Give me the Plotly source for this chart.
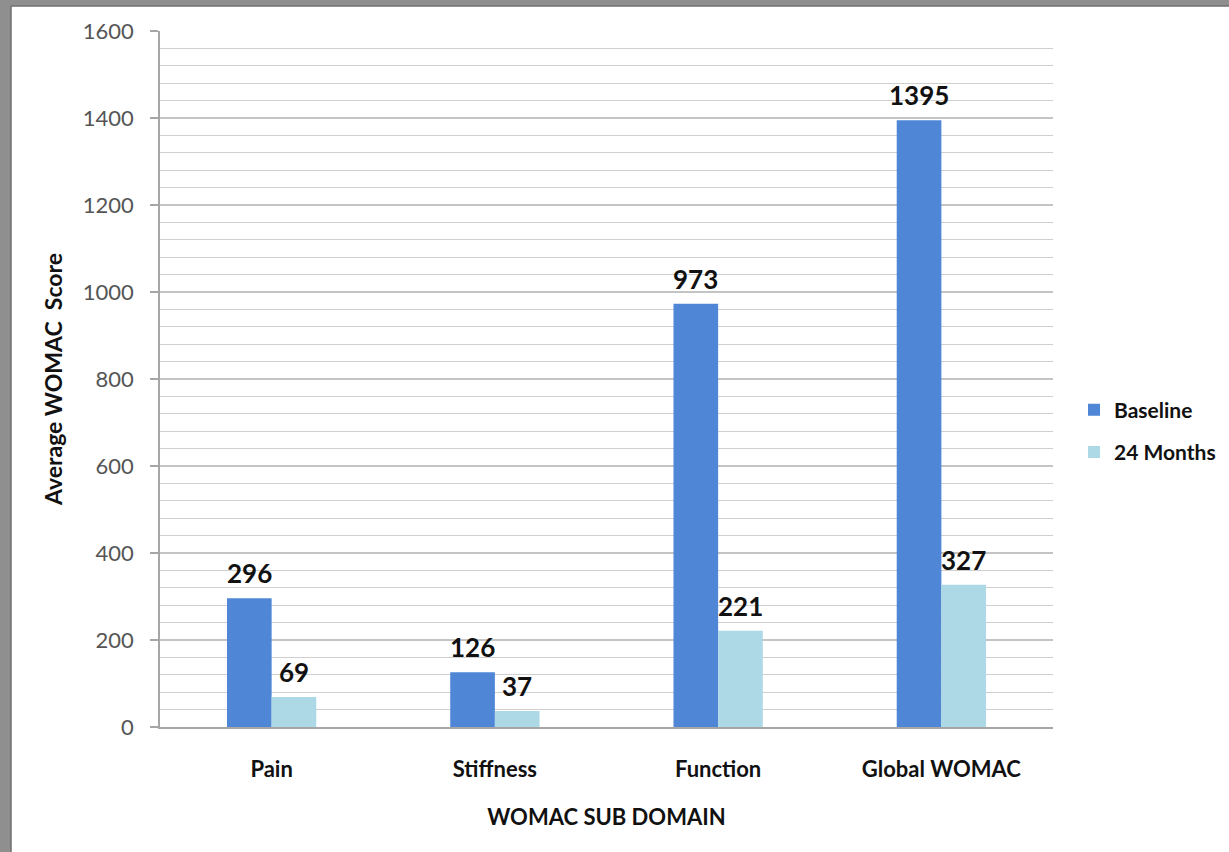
import plotly.graph_objects as go

# WOMAC scores at baseline and after 24 months
categories = ["Pain", "Stiffness", "Function", "Global WOMAC"]
baseline = [296, 126, 973, 1395]
months_24 = [69, 37, 221, 327]

W, H = 1229, 852
L, R, T, B = 160, 176, 31, 125
FONT = "Lato"

fig = go.Figure()
fig.add_trace(go.Bar(name="<b>Baseline</b>", x=categories, y=baseline,
                     marker=dict(color="#4F87D6", line=dict(width=0)),
                     legendgroup="a"))
fig.add_trace(go.Bar(name="<b>24 Months</b>", x=categories, y=months_24,
                     marker=dict(color="#ADD8E6", line=dict(width=0)),
                     legendgroup="b"))

# value labels above each bar
bar_px = (W - L - R) / len(categories) * 0.2
for series, shift in ((baseline, -bar_px / 2), (months_24, bar_px / 2)):
    for cat, val in zip(categories, series):
        fig.add_annotation(x=cat, y=val, text=f"<b>{val}</b>", showarrow=False,
                           xref="x", yref="y", xshift=shift, yshift=7,
                           yanchor="bottom",
                           font=dict(family=FONT, size=26, color="#111111"))

# grey frame around the white panel
pw, ph = W - L - R, H - T - B
def px_x(p):
    return (p - L) / pw
def px_y(p):
    return 1 - (p - T) / ph

fig.add_shape(type="rect", xref="paper", yref="paper", layer="below",
              x0=px_x(0), x1=px_x(11), y0=px_y(H), y1=px_y(0),
              fillcolor="#8f8f8f", line=dict(width=0))
fig.add_shape(type="rect", xref="paper", yref="paper", layer="below",
              x0=px_x(0), x1=px_x(W), y0=px_y(6), y1=px_y(0),
              fillcolor="#8f8f8f", line=dict(width=0))
fig.add_shape(type="line", xref="paper", yref="paper", layer="below",
              x0=px_x(11), x1=px_x(11), y0=px_y(H), y1=px_y(6),
              line=dict(color="#6f6f6f", width=1.5))
fig.add_shape(type="line", xref="paper", yref="paper", layer="below",
              x0=px_x(11), x1=px_x(W), y0=px_y(6), y1=px_y(6),
              line=dict(color="#6f6f6f", width=1.5))

fig.update_layout(
    width=W, height=H,
    margin=dict(l=L, r=R, t=T, b=B, autoexpand=False),
    paper_bgcolor="white", plot_bgcolor="white",
    barmode="group", bargap=0.6, bargroupgap=0,
    showlegend=True,
    legend=dict(x=px_x(1074), y=px_y(431), xanchor="left", yanchor="middle",
                font=dict(family=FONT, size=21, color="#111111"),
                tracegroupgap=12, traceorder="grouped", itemwidth=30,
                bgcolor="rgba(0,0,0,0)"),
    font=dict(family=FONT),
)
fig.update_xaxes(
    title=dict(text="<b>WOMAC SUB DOMAIN</b>", standoff=28,
               font=dict(family=FONT, size=22, color="#111111")),
    tickfont=dict(family=FONT, size=22, color="#111111"),
    ticklabelstandoff=22,
    tickprefix="<b>", ticksuffix="</b>",
    showline=True, linecolor="#a6a6a6", linewidth=1.5,
    ticks="", showgrid=False,
)
fig.update_yaxes(
    range=[0, 1600], dtick=200,
    title=dict(text="<b>Average WOMAC  Score</b>", standoff=14,
               font=dict(family=FONT, size=23, color="#111111")),
    tickfont=dict(family=FONT, size=22, color="#555555"),
    ticklabelstandoff=12,
    showline=True, linecolor="#a6a6a6", linewidth=1.5,
    ticks="outside", ticklen=8, tickcolor="#a6a6a6", tickwidth=1.5,
    showgrid=True, gridcolor="#c4c4c4", gridwidth=1.5,
    minor=dict(dtick=40, showgrid=True, gridcolor="#cfcfcf", gridwidth=1.2),
    zeroline=False,
)

fig.write_html("out.html")
